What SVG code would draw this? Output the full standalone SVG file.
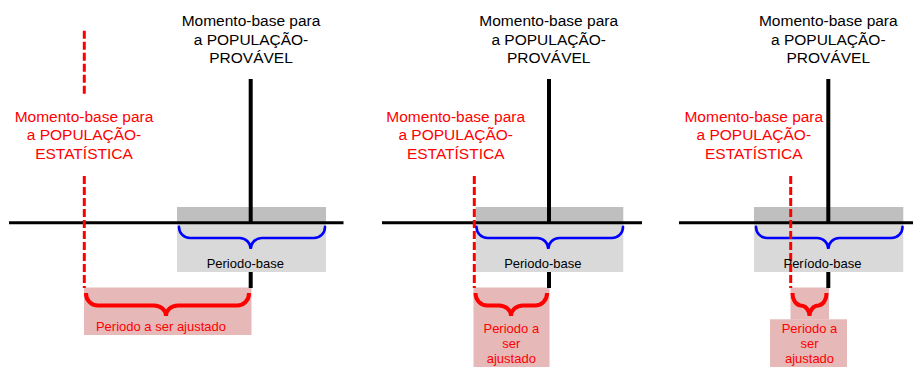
<svg xmlns="http://www.w3.org/2000/svg" width="913" height="367" viewBox="0 0 913 367">
<style>
.lbl{font-family:"Liberation Sans",Arial,sans-serif;font-size:15.5px;text-anchor:middle}
.blk{fill:#000}
.red{fill:#ff0000}
.sm{font-family:"Liberation Sans",Arial,sans-serif;font-size:13px;text-anchor:middle}
.dark{fill:#bfbfbf}
.light{fill:#d9d9d9}
.pink{fill:#e6b8b7}
.axis{stroke:#000;stroke-width:3;fill:none}
.vert{stroke:#000;stroke-width:4;fill:none}
.dash{stroke:#ff0000;stroke-width:3;stroke-dasharray:8 3;fill:none}
.bb{stroke:#0000ff;stroke-width:2.6;fill:none;stroke-linecap:round}
.rb{stroke:#ff0000;stroke-width:4;fill:none;stroke-linecap:butt}
</style>
<rect width="913" height="367" fill="#fff"/>

<g id="panel1">
  <rect class="dark" x="177" y="207" width="149" height="16"/>
  <rect class="pink" x="84" y="287.5" width="167.5" height="47.5"/>
  <g id="connectors1">
    <line class="vert" x1="250.7" y1="79" x2="250.7" y2="288"/>
  </g>
  <rect class="light" x="177" y="223.5" width="149" height="48.5"/>
  <g id="connectors1b">
    <line class="axis" x1="9" y1="222.7" x2="343.5" y2="222.7"/>
    <line class="dash" x1="84.3" y1="30.7" x2="84.3" y2="96"/>
    <line class="dash" x1="84.3" y1="176" x2="84.3" y2="288"/>
  </g>
  <path class="bb" d="M179,226.7 A11,11 0 0 0 190,238 L239.7,238 A11,11 0 0 1 250.7,249 A11,11 0 0 1 261.7,238 L314,238 A11,11 0 0 0 325,226.7"/>
  <path class="rb" d="M86,293 A12,12 0 0 0 98,305.5 L154,305.5 A12,10.5 0 0 1 166,316 A12,10.5 0 0 1 178,305.5 L237,305.5 A12,12 0 0 0 249,293"/>
  <g id="label-prov1" class="lbl blk">
    <text x="251" y="26">Momento-base para</text>
    <text x="251" y="44.5">a POPULAÇÃO-</text>
    <text x="251" y="63">PROVÁVEL</text>
  </g>
  <g id="label-est1" class="lbl red">
    <text x="84" y="121.5">Momento-base para</text>
    <text x="84" y="140">a POPULAÇÃO-</text>
    <text x="84" y="158.5">ESTATÍSTICA</text>
  </g>
  <text class="sm blk" x="245.3" y="268">Periodo-base</text>
  <text class="sm red" x="161" y="331">Periodo a ser ajustado</text>
</g>

<g id="panel2">
  <rect class="dark" x="475.7" y="207" width="147.6" height="16"/>
  <rect class="pink" x="473.5" y="287.5" width="76" height="79.5"/>
  <g id="connectors2">
    <line class="vert" x1="549" y1="79" x2="549" y2="288"/>
  </g>
  <rect class="light" x="475.7" y="223.5" width="147.6" height="48.5"/>
  <g id="connectors2b">
    <line class="axis" x1="382" y1="222.7" x2="642" y2="222.7"/>
    <line class="dash" x1="474.3" y1="176" x2="474.3" y2="288"/>
  </g>
  <path class="bb" d="M476.5,226.7 A11,11 0 0 0 487.5,238 L537.3,238 A11,11 0 0 1 548.3,249 A11,11 0 0 1 559.3,238 L612,238 A11,11 0 0 0 623,226.7"/>
  <path class="rb" d="M475.5,293 A12,12 0 0 0 487.5,305.5 L499,305.5 A12,10.5 0 0 1 511,316 A12,10.5 0 0 1 523,305.5 L535,305.5 A12,12 0 0 0 547,293"/>
  <g id="label-prov2" class="lbl blk">
    <text x="548.7" y="26">Momento-base para</text>
    <text x="548.7" y="44.5">a POPULAÇÃO-</text>
    <text x="548.7" y="63">PROVÁVEL</text>
  </g>
  <g id="label-est2" class="lbl red">
    <text x="455.7" y="121.5">Momento-base para</text>
    <text x="455.7" y="140">a POPULAÇÃO-</text>
    <text x="455.7" y="158.5">ESTATÍSTICA</text>
  </g>
  <text class="sm blk" x="542.8" y="268">Periodo-base</text>
  <g class="sm red">
    <text x="511.3" y="333">Periodo a</text>
    <text x="511.3" y="348.3">ser</text>
    <text x="511.3" y="363.3">ajustado</text>
  </g>
</g>

<g id="panel3">
  <rect class="dark" x="754" y="207" width="149.3" height="16"/>
  <rect class="pink" x="790.5" y="287.5" width="38.5" height="32"/>
  <rect class="pink" x="770" y="319.3" width="77" height="47.7"/>
  <g id="connectors3">
    <line class="vert" x1="828.3" y1="79" x2="828.3" y2="288"/>
  </g>
  <rect class="light" x="754" y="223.5" width="149.3" height="48.5"/>
  <g id="connectors3b">
    <line class="axis" x1="679" y1="222.7" x2="913" y2="222.7"/>
  </g>
  <path class="bb" d="M756,226.7 A11,11 0 0 0 767,238 L817.3,238 A11,11 0 0 1 828.3,249 A11,11 0 0 1 839.3,238 L891.5,238 A11,11 0 0 0 902.5,226.7"/>
  <g id="connectors3c">
    <line class="dash" x1="790.7" y1="176" x2="790.7" y2="288"/>
  </g>
  <path class="rb" d="M792.5,293 A9,12 0 0 0 800.5,305.5 A9,10.5 0 0 1 809.5,316 A9,10.5 0 0 1 818.5,305.5 A9,12 0 0 0 826.5,293"/>
  <g id="label-prov3" class="lbl blk">
    <text x="828.3" y="26">Momento-base para</text>
    <text x="828.3" y="44.5">a POPULAÇÃO-</text>
    <text x="828.3" y="63">PROVÁVEL</text>
  </g>
  <g id="label-est3" class="lbl red">
    <text x="753.8" y="121.5">Momento-base para</text>
    <text x="753.8" y="140">a POPULAÇÃO-</text>
    <text x="753.8" y="158.5">ESTATÍSTICA</text>
  </g>
  <text class="sm blk" x="822.5" y="268">Período-base</text>
  <g class="sm red">
    <text x="809.5" y="332.7">Periodo a</text>
    <text x="809.5" y="348">ser</text>
    <text x="809.5" y="363">ajustado</text>
  </g>
</g>
</svg>
